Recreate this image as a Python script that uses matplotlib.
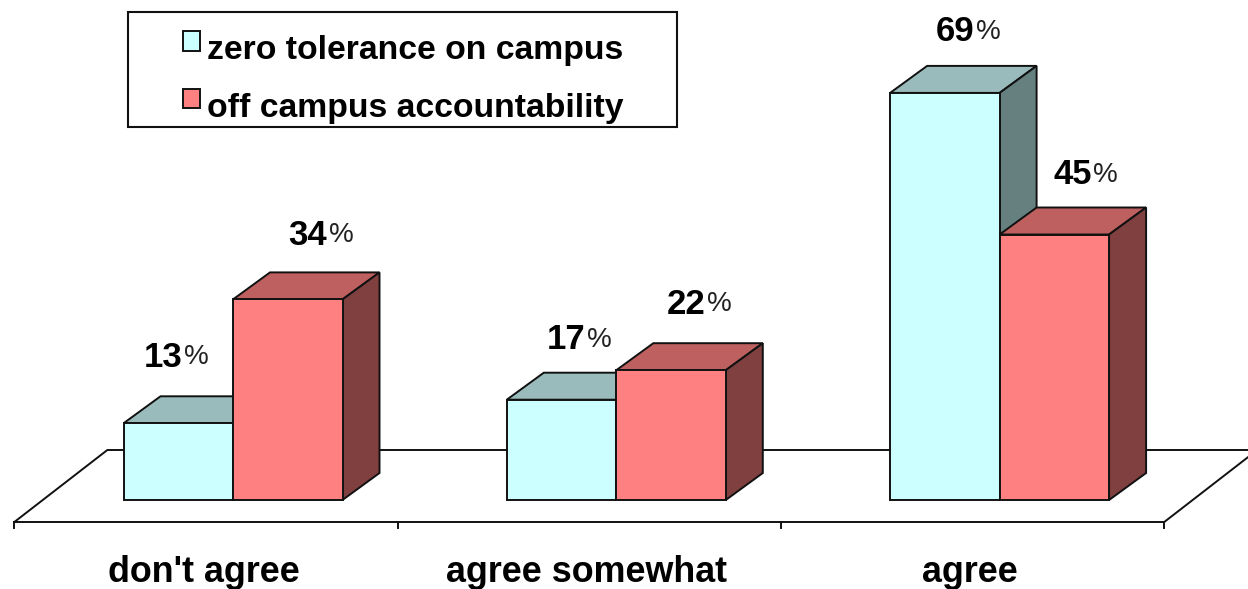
import matplotlib
matplotlib.use('Agg')
import matplotlib.pyplot as plt
from matplotlib.patches import Polygon, Rectangle
from matplotlib.transforms import Affine2D

categories = ["don't agree", 'agree somewhat', 'agree']
series_names = ['zero tolerance on campus', 'off campus accountability']
zero_tolerance = [13, 17, 69]
off_campus = [34, 22, 45]

W, H = 1248, 589
PX_PER_X = 383.3   # one category
PX_PER_Y = 5.9     # one percent
X0_PX, Y0_PX = 233, 500

BLUE = ('#CCFFFF', '#99BBBB', '#668080')  # front, top, side
RED = ('#FF8080', '#BF6060', '#804040')
EDGE = '#111111'
LW = 1.4
FONT = 'Liberation Sans'

BAR_W = 109.5 / PX_PER_X
DEPTH_X = 37 / PX_PER_X
DEPTH_Y = 27 / PX_PER_Y

fig = plt.figure(figsize=(W / 100, H / 100), dpi=100, facecolor='white')
ax = fig.add_axes([0, 0, 1, 1])
ax.set_xlim(-X0_PX / PX_PER_X, (W - X0_PX) / PX_PER_X)
ax.set_ylim(-(H - Y0_PX) / PX_PER_Y, Y0_PX / PX_PER_Y)
ax.axis('off')

# pixel transform for the legend box
px = Affine2D().scale(1 / W, -1 / H).translate(0, 1) + fig.transFigure


def draw_bar(left, value, colors):
    right = left + BAR_W
    faces = [
        (colors[1], [(left, value), (right, value),
                     (right + DEPTH_X, value + DEPTH_Y), (left + DEPTH_X, value + DEPTH_Y)]),
        (colors[2], [(right, 0), (right + DEPTH_X, DEPTH_Y),
                     (right + DEPTH_X, value + DEPTH_Y), (right, value)]),
        (colors[0], [(left, 0), (right, 0), (right, value), (left, value)]),
    ]
    for color, pts in faces:
        ax.add_patch(Polygon(pts, closed=True, facecolor=color, edgecolor=EDGE,
                             linewidth=LW, joinstyle='miter', zorder=3))


def draw_label(x, value, dx_px, dy_px):
    xc = x + dx_px / PX_PER_X
    yc = value + dy_px / PX_PER_Y
    ax.text(xc + 4.5 / PX_PER_X, yc, str(value), ha='right', va='center', fontsize=25,
            fontweight='bold', family=FONT, color='black', zorder=5)
    ax.text(xc + 6 / PX_PER_X, yc, '%', ha='left', va='center', fontsize=20,
            family=FONT, color='#222222', zorder=5)


# floor
floor_left = -0.5 - 27 / PX_PER_X
floor_right = floor_left + len(categories)
floor_front = -22 / PX_PER_Y
floor_back = 50 / PX_PER_Y
floor_dx = 93 / PX_PER_X
ax.plot([floor_left, floor_left + floor_dx, floor_right + floor_dx, floor_right, floor_left],
        [floor_front, floor_back, floor_back, floor_front, floor_front],
        color=EDGE, lw=LW, zorder=1, clip_on=True)
for i in range(len(categories) + 1):
    ax.plot([floor_left + i] * 2, [floor_front, floor_front - 6 / PX_PER_Y],
            color=EDGE, lw=LW, zorder=1)
for i, name in enumerate(categories):
    ax.text(floor_left + i + 0.5 - 2.5 / PX_PER_X, -73 / PX_PER_Y, name, ha='center', va='center',
            fontsize=25.8, fontweight='bold', family=FONT, color='black')

# bars and value labels, offsets are where the labels sit around each bar
blue_offsets = [(0, 66), (19, 60), (25, 61)]
red_offsets = [(35, 64), (30, 66), (33, 60)]
for i in range(len(categories)):
    draw_bar(i - BAR_W, zero_tolerance[i], BLUE)
    draw_bar(i, off_campus[i], RED)
    draw_label(i - BAR_W / 2, zero_tolerance[i], *blue_offsets[i])
    draw_label(i + BAR_W / 2, off_campus[i], *red_offsets[i])

# legend
ax.add_patch(Rectangle((128, 12), 549, 115, transform=px, facecolor='white',
                       edgecolor=EDGE, linewidth=1.5, zorder=6))
for (top, h), colors, name, base in zip([(31, 20), (89, 19)], [BLUE, RED], series_names, [59, 117]):
    ax.add_patch(Rectangle((183, top), 17, h, transform=px, facecolor=colors[0],
                           edgecolor=EDGE, linewidth=LW, zorder=7))
    ax.text(207, base, name, transform=px, ha='left', va='baseline', fontsize=24.3,
            fontweight='bold', family=FONT, color='black', zorder=7)

fig.savefig('out.png', dpi=100, facecolor='white')
